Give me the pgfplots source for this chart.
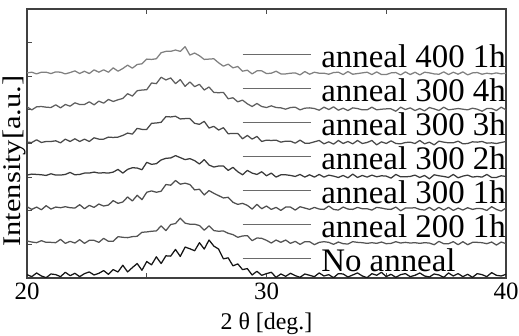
\documentclass[border=0pt]{standalone}
\usepackage{fontspec}
\setmainfont{Liberation Serif}
\newfontfamily\ylfont[FakeStretch=1.2]{Liberation Serif}
\usepackage{pgfplots}
\usepackage{pgfplotstable}
\pgfplotsset{compat=1.18}
\pgfplotstableread{
x A B C D E F G
20.0 6.10 5.09 4.04 3.06 2.12 1.10 0.10
20.2 6.12 5.00 4.03 3.09 2.04 1.07 0.04
20.4 6.07 5.09 4.11 3.08 2.11 1.05 0.15
20.6 6.12 5.10 4.03 3.07 2.03 1.11 0.06
20.8 6.12 5.08 4.06 3.05 2.15 1.06 0.01
21.0 6.08 5.07 4.06 3.10 2.05 1.06 0.12
21.2 6.13 5.15 4.08 3.06 2.11 1.05 0.10
21.4 6.12 5.06 4.02 3.06 2.09 1.15 0.04
21.6 6.07 5.16 4.13 3.08 2.12 1.03 0.17
21.8 6.11 5.11 4.06 3.14 2.09 1.09 0.07
22.0 6.16 5.21 4.14 3.07 2.08 1.04 0.14
22.2 6.08 5.16 4.06 3.08 2.18 1.14 0.04
22.4 6.15 5.16 4.13 3.12 2.06 1.03 0.13
22.6 6.08 5.24 4.06 3.12 2.16 1.12 0.18
22.8 6.19 5.15 4.17 3.15 2.10 1.12 0.09
23.0 6.12 5.26 4.13 3.12 2.20 1.06 0.14
23.2 6.19 5.20 4.13 3.13 2.14 1.18 0.22
23.4 6.12 5.31 4.19 3.12 2.17 1.09 0.11
23.6 6.25 5.25 4.18 3.15 2.30 1.09 0.25
23.8 6.15 5.30 4.19 3.23 2.22 1.23 0.18
24.0 6.23 5.34 4.24 3.12 2.26 1.21 0.38
24.2 6.33 5.48 4.31 3.23 2.41 1.20 0.18
24.4 6.24 5.41 4.28 3.28 2.29 1.23 0.31
24.6 6.35 5.57 4.45 3.27 2.46 1.24 0.43
24.8 6.37 5.59 4.42 3.22 2.33 1.36 0.23
25.0 6.51 5.60 4.42 3.44 2.55 1.37 0.49
25.2 6.50 5.80 4.60 3.38 2.59 1.39 0.39
25.4 6.52 5.78 4.61 3.40 2.55 1.40 0.63
25.6 6.70 5.97 4.63 3.51 2.58 1.55 0.43
25.8 6.74 5.89 4.80 3.56 2.78 1.41 0.66
26.0 6.74 5.95 4.79 3.57 2.76 1.59 0.65
26.2 6.78 5.78 4.81 3.64 2.90 1.62 0.85
26.4 6.74 5.90 4.73 3.58 2.79 1.78 0.64
26.6 6.88 5.70 4.74 3.52 2.82 1.63 0.92
26.8 6.63 5.83 4.74 3.55 2.78 1.60 0.87
27.0 6.69 5.69 4.60 3.49 2.62 1.60 0.81
27.2 6.61 5.76 4.57 3.39 2.64 1.56 1.05
27.4 6.50 5.59 4.66 3.52 2.47 1.42 0.86
27.6 6.51 5.68 4.46 3.36 2.60 1.55 1.13
27.8 6.52 5.52 4.51 3.30 2.52 1.41 0.95
28.0 6.40 5.51 4.40 3.33 2.45 1.39 0.86
28.2 6.30 5.52 4.47 3.33 2.38 1.40 0.57
28.4 6.36 5.33 4.29 3.20 2.40 1.33 0.60
28.6 6.25 5.36 4.30 3.29 2.25 1.29 0.36
28.8 6.29 5.24 4.30 3.16 2.19 1.21 0.42
29.0 6.15 5.29 4.14 3.07 2.22 1.25 0.25
29.2 6.18 5.18 4.24 3.20 2.16 1.26 0.28
29.4 6.07 5.10 4.13 3.12 2.05 1.11 0.09
29.6 6.16 5.19 4.21 3.08 2.19 1.19 0.20
29.8 6.16 5.10 4.06 3.16 2.06 1.18 0.08
30.0 6.08 5.07 4.10 3.04 2.14 1.12 0.13
30.2 6.09 5.12 4.09 3.12 2.04 1.04 0.17
30.4 6.15 5.07 4.10 3.00 2.10 1.13 0.02
30.6 6.07 5.06 4.04 3.07 2.01 1.06 0.12
30.8 6.07 5.02 4.07 3.07 2.11 1.13 0.05
31.0 6.09 5.07 4.07 3.05 2.11 1.03 0.14
31.2 6.10 5.08 4.01 3.02 2.02 1.09 0.07
31.4 6.04 5.00 4.10 3.08 2.12 1.00 0.02
31.6 6.14 5.05 4.01 3.00 2.08 1.08 0.12
31.8 6.06 5.06 4.01 3.07 2.04 1.08 0.08
32.0 6.12 5.04 4.05 3.00 2.10 0.99 0.04
32.2 6.09 4.99 4.09 3.08 2.05 1.06 0.15
32.4 6.09 5.08 3.99 3.00 2.04 1.08 0.06
32.6 6.06 5.01 4.05 3.06 2.14 1.06 0.10
32.8 6.11 5.09 3.98 3.03 2.04 1.00 0.01
33.0 6.12 4.99 4.09 2.99 2.02 1.07 0.13
33.2 6.05 5.05 4.00 3.05 2.11 1.02 0.12
33.4 6.14 4.98 4.06 2.98 2.05 1.01 0.03
33.6 6.06 5.06 3.99 3.09 2.04 1.08 0.09
33.8 6.08 5.04 4.09 2.99 2.10 1.06 0.15
34.0 6.10 5.00 4.00 3.05 2.06 1.05 0.06
34.2 6.12 5.00 4.03 3.00 2.06 1.03 0.01
34.4 6.05 5.08 4.09 3.06 2.02 1.05 0.13
34.6 6.13 5.00 3.96 3.01 2.10 1.03 0.08
34.8 6.05 5.02 4.05 3.04 2.08 1.07 0.17
35.0 6.05 5.03 4.00 3.03 2.05 1.02 0.04
35.2 6.10 5.03 4.08 2.97 2.04 1.03 0.11
35.4 6.11 4.96 4.00 3.08 2.11 1.08 0.02
35.6 6.04 5.08 3.99 3.01 2.00 1.04 0.10
35.8 6.13 5.01 4.03 3.01 2.08 1.06 0.13
36.0 6.05 5.06 4.04 3.02 2.08 1.04 0.04
36.2 6.12 4.98 4.00 3.06 2.09 1.05 0.08
36.4 6.04 5.04 4.09 2.99 2.04 1.03 0.15
36.6 6.12 4.97 3.99 3.05 2.02 1.05 0.06
36.8 6.10 5.07 4.04 2.95 2.10 1.04 0.03
37.0 6.07 5.03 3.96 3.07 2.01 0.99 0.12
37.2 6.06 4.98 4.07 3.04 2.10 1.09 0.09
37.4 6.13 5.08 4.04 3.02 2.02 1.02 0.02
37.6 6.05 5.00 4.02 2.99 2.10 1.02 0.15
37.8 6.12 5.02 4.02 3.08 2.01 1.08 0.06
38.0 6.06 5.04 4.07 2.98 2.08 0.99 0.13
38.2 6.13 5.02 3.99 3.03 2.02 1.08 0.04
38.4 6.04 5.00 4.00 3.06 2.09 0.99 0.11
38.6 6.10 5.05 4.05 3.00 2.04 1.06 0.02
38.8 6.11 5.02 4.04 3.02 2.07 1.06 0.13
39.0 6.06 4.96 4.06 3.00 2.06 1.05 0.10
39.2 6.09 5.04 4.01 3.08 2.01 1.02 0.04
39.4 6.07 5.04 4.02 2.99 2.12 1.07 0.16
39.6 6.10 4.98 4.00 2.99 2.04 0.98 0.08
39.8 6.07 5.08 4.03 3.04 1.99 1.07 0.06
40.0 6.09 5.00 4.06 3.02 2.08 1.02 0.11
}\xrd
\definecolor{cA}{HTML}{808080}
\definecolor{cB}{HTML}{5E5E5E}
\definecolor{cC}{HTML}{4A4A4A}
\definecolor{cD}{HTML}{3A3A3A}
\definecolor{cE}{HTML}{4E4E4E}
\definecolor{cF}{HTML}{545454}
\definecolor{cG}{HTML}{151515}
\definecolor{legline}{HTML}{6A6A6A}
\begin{document}
\begin{tikzpicture}
\begin{axis}[
  name=ax,
  scale only axis,
  width=479bp, height=269bp,
  xmin=20, xmax=40, ymin=0, ymax=8,
  xtick={20,25,30,35,40},
  xticklabels={20,,30,,40},
  ytick={1,2,3,4,5,6,7},
  yticklabels={},
  ytick pos=left,
  xtick pos=both,
  tick align=inside,
  major tick length=5bp,
  tick style={black!70, line width=0.9bp},
  axis line style={black!75, line width=1.1bp},
  /pgf/number format/assume math mode=true,
  tick label style={font=\fontsize{25}{25}\selectfont},
  xticklabel style={yshift=-1bp},
  xlabel={2 θ [deg.]},
  xlabel style={font=\fontsize{24}{24}\selectfont, anchor=base, at={(axis description cs:0.5,-0.193)}},
  ylabel={\ylfont Intensity[a.u.]},
  ylabel style={font=\fontsize{25.5}{25.5}\selectfont, anchor=center, at={(axis description cs:-0.027,0.435)}},
  legend cell align=left,
  legend image code/.code={\draw[#1, line width=1.3bp, color=legline] (0bp,5bp) -- (68bp,5bp);},
  legend style={draw=none, fill=none, at={(rel axis cs:1,0.870)}, anchor=north east,
    font=\fontsize{33}{33}\selectfont, inner sep=0pt, row sep=4bp,
    nodes={inner sep=0pt, text height=23bp, text depth=7bp},
    /tikz/every odd column/.append style={column sep=10bp}},
  every axis plot/.append style={line width=1.25bp, line join=round},
]
\addplot[cA] table[x=x, y=A] {\xrd};
\addlegendentry{anneal 400 1h}
\addplot[cB] table[x=x, y=B] {\xrd};
\addlegendentry{anneal 300 4h}
\addplot[cC] table[x=x, y=C] {\xrd};
\addlegendentry{anneal 300 3h}
\addplot[cD] table[x=x, y=D] {\xrd};
\addlegendentry{anneal 300 2h}
\addplot[cE] table[x=x, y=E] {\xrd};
\addlegendentry{anneal 300 1h}
\addplot[cF] table[x=x, y=F] {\xrd};
\addlegendentry{anneal 200 1h}
\addplot[cG] table[x=x, y=G] {\xrd};
\addlegendentry{No anneal}
\end{axis}
\pgfresetboundingbox
\path[use as bounding box] ([shift={(-27bp,-58bp)}]ax.south west) rectangle ([shift={(13bp,9bp)}]ax.north east);
\end{tikzpicture}
\end{document}
